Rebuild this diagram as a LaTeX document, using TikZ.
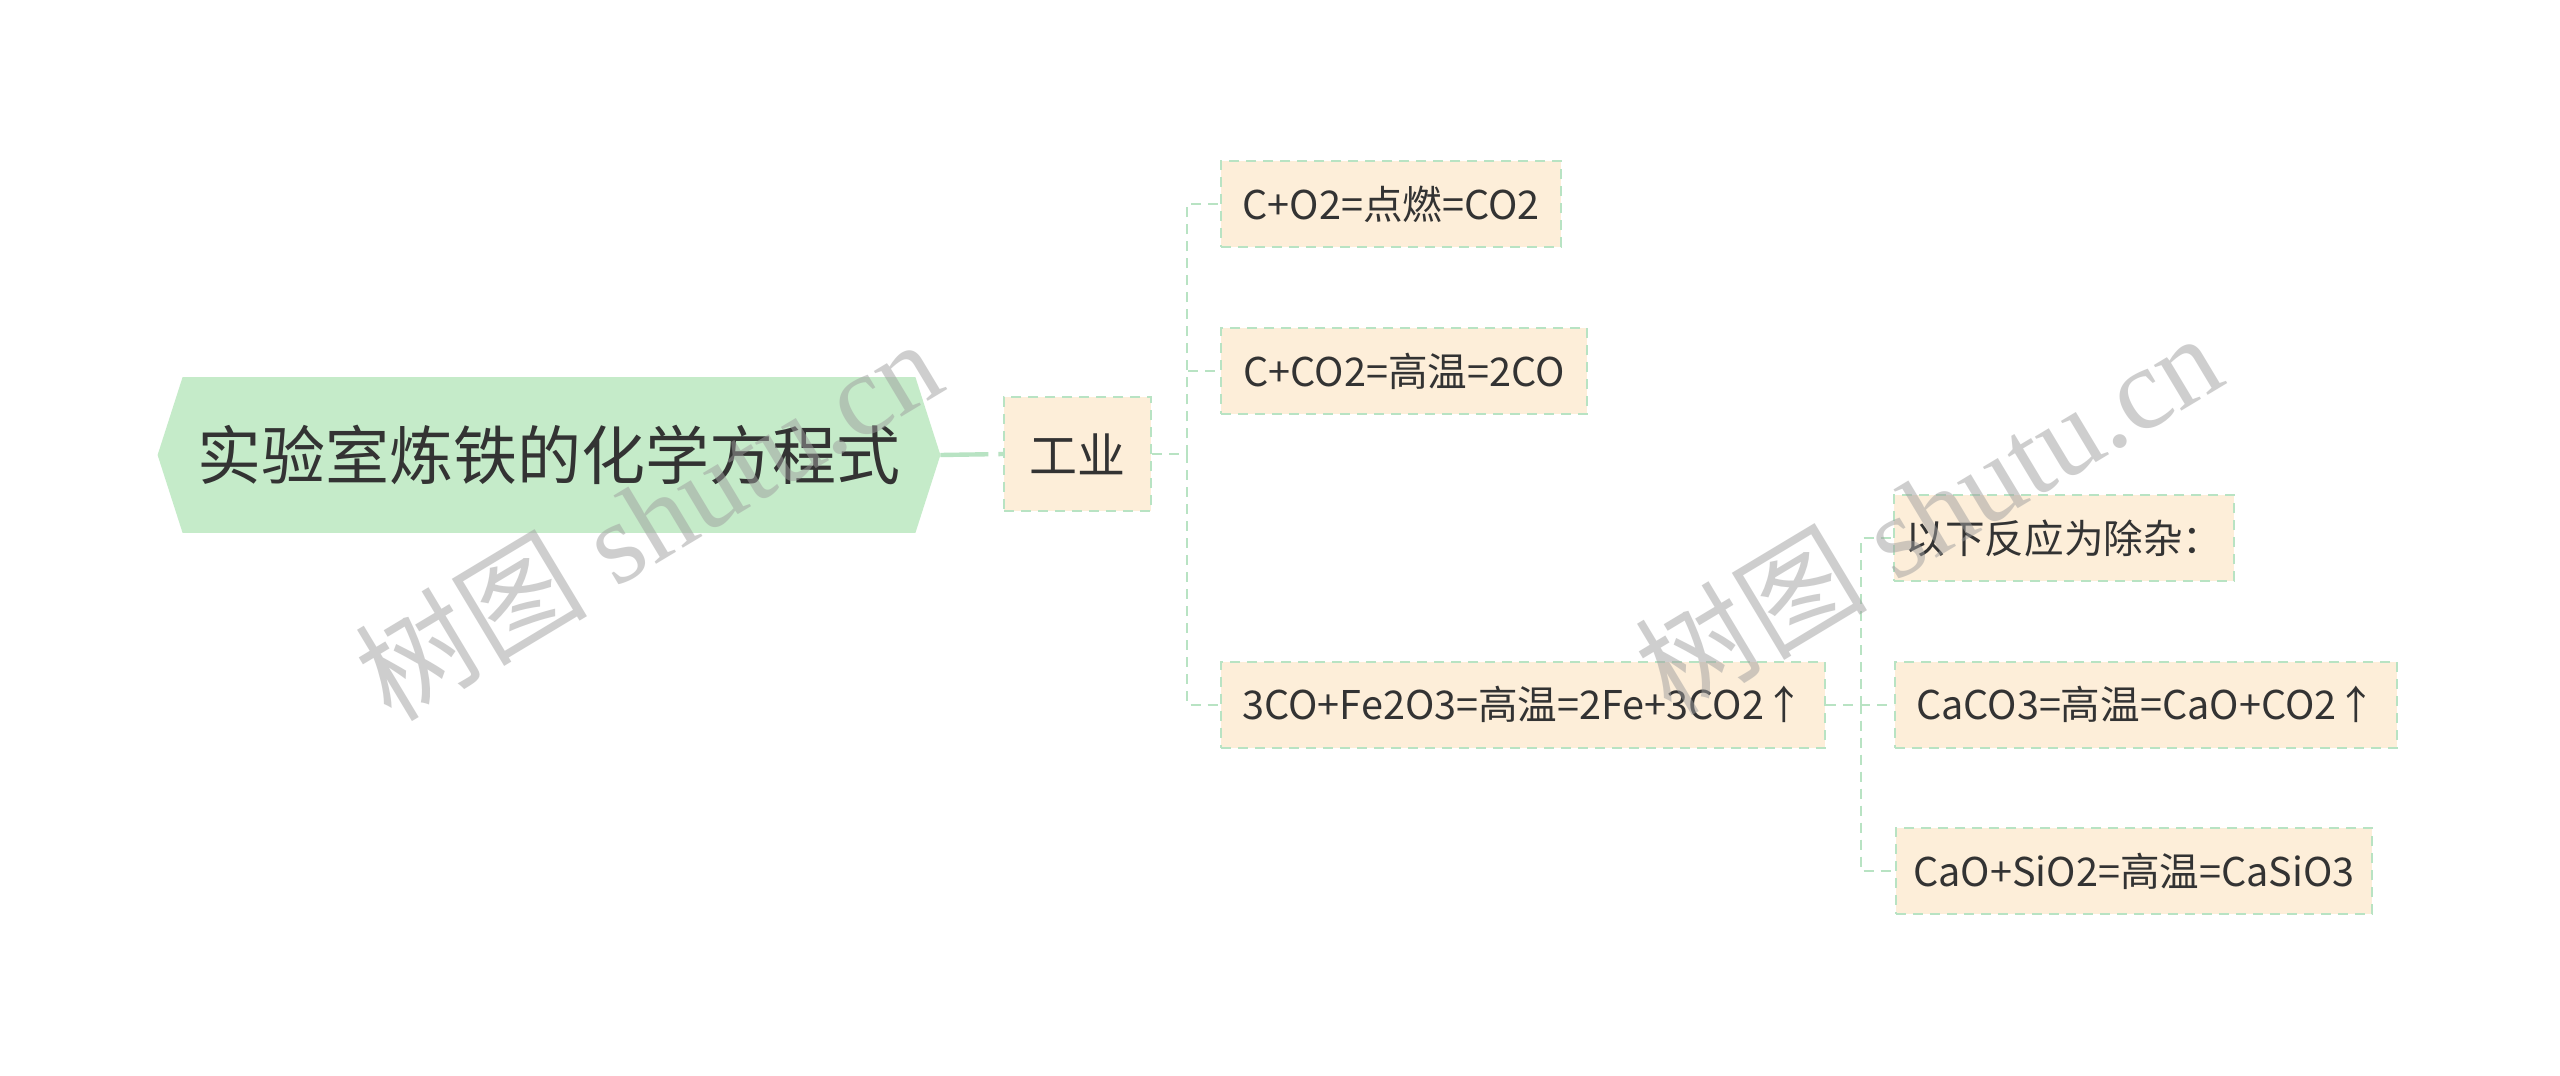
\documentclass[tikz,border=0pt]{standalone}
\usepackage{fontspec}
\setmainfont{Noto Sans CJK SC}
\newfontfamily\cjk{Noto Sans CJK SC}
\newfontfamily\wmfont{Liberation Serif}
\usetikzlibrary{backgrounds}
\definecolor{rootgreen}{RGB}{197,235,201}
\definecolor{peach}{RGB}{253,238,217}
\definecolor{lgreen}{RGB}{184,227,195}
\definecolor{txt}{RGB}{51,51,51}
\tikzset{
  rootbox/.style={inner sep=0pt, text=txt, font=\cjk\fontsize{32}{38}\selectfont,
    minimum width=391pt, minimum height=77.5pt},
  gybox/.style={draw=lgreen, line width=1pt, dash pattern=on 5pt off 3.5pt, fill=peach,
    text=txt, inner sep=0pt, font=\cjk\fontsize{24}{28}\selectfont,
    minimum width=73.5pt, minimum height=57pt},
  eqbox/.style={draw=lgreen, line width=1pt, dash pattern=on 5pt off 3.5pt, fill=peach,
    text=txt, inner sep=0pt, font=\cjk\fontsize{19.8}{23}\selectfont,
    minimum height=43pt},
  conn/.style={draw=lgreen, line width=1pt, dash pattern=on 5pt off 3.5pt},
  mainconn/.style={draw=lgreen, line width=2.2pt, dash pattern=on 24pt off 5pt},
  wm/.style={text=black!38, text opacity=0.5, inner sep=0pt,
    font=\wmfont\fontsize{58}{62}\selectfont}
}
\begin{document}
\begin{tikzpicture}[x=0.5pt,y=-0.5pt]
\useasboundingbox (0,0) rectangle (2560,1076);

% root
\node[rootbox] (root) at (549,455) {实验室炼铁的化学方程式};
\begin{scope}[on background layer]
\fill[white] (0,0) rectangle (2560,1076);
\fill[rootgreen] (root.west) -- ([xshift=12.5pt]root.north west)
  -- ([xshift=-12.5pt]root.north east) -- (root.east)
  -- ([xshift=-12.5pt]root.south east) -- ([xshift=12.5pt]root.south west) -- cycle;
\end{scope}

% level 1
\node[gybox] (gy) at (1077.5,454) {工业};

% level 2
\node[eqbox, minimum width=170pt] (c1) at (1391,204) {C+O2=点燃=CO2};
\node[eqbox, minimum width=183pt] (c2) at (1404,371) {C+CO2=高温=2CO};
\node[eqbox, minimum width=302pt] (c3) at (1523,704.5) {3CO+Fe2O3=高温=2Fe+3CO2↑};

% level 3
\node[eqbox, minimum width=170pt] (d1) at (2064,538) {以下反应为除杂：};
\node[eqbox, minimum width=251pt] (d2) at (2146,704.5) {CaCO3=高温=CaO+CO2↑};
\node[eqbox, minimum width=238pt] (d3) at (2134,871) {CaO+SiO2=高温=CaSiO3};

% connectors
\draw[mainconn] (root.east) -- (gy.west);
\draw[conn] (gy.east) -- ++(35,0) |- (c1.west);
\draw[conn] (gy.east) -- ++(35,0) |- (c2.west);
\draw[conn] (gy.east) -- ++(35,0) |- (c3.west);
\draw[conn] (c3.east) -- ++(35,0) |- (d1.west);
\draw[conn] (c3.east) -- ++(35,0) |- (d2.west);
\draw[conn] (c3.east) -- ++(35,0) |- (d3.west);

% watermarks
\node[wm, rotate=31] (wm1) at (648,518) {{\cjk 树图} shutu.cn};
\node[wm, rotate=31] (wm2) at (1928,512) {{\cjk 树图} shutu.cn};
\end{tikzpicture}
\end{document}
